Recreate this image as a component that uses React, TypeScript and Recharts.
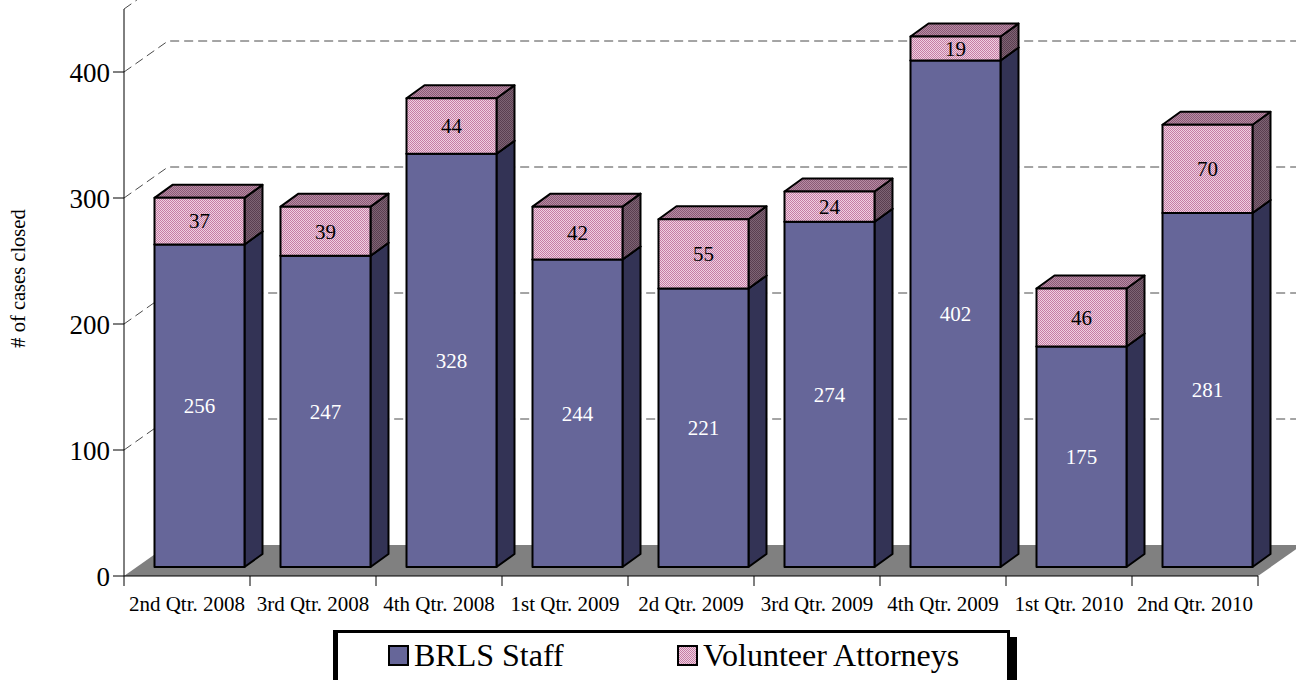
import React from 'react';
import { BarChart, Bar, XAxis, YAxis, CartesianGrid, LabelList } from 'recharts';

const quarters = [
  '2nd Qtr. 2008',
  '3rd Qtr. 2008',
  '4th Qtr. 2008',
  '1st Qtr. 2009',
  '2d Qtr. 2009',
  '3rd Qtr. 2009',
  '4th Qtr. 2009',
  '1st Qtr. 2010',
  '2nd Qtr. 2010',
];
const brlsStaff = [256, 247, 328, 244, 221, 274, 402, 175, 281];
const volunteerAttorneys = [37, 39, 44, 42, 55, 24, 19, 46, 70];
const yTicks = [0, 100, 200, 300, 400];
const yDomain = [0, 450];

const data = quarters.map((q, i) => ({
  quarter: q,
  staff: brlsStaff[i],
  volunteers: volunteerAttorneys[i],
}));

const W = 1296;
const H = 680;
const MARGIN = { top: 9, right: 38, bottom: 74, left: 0 };
const X_AXIS_H = 30;
const PLOT_BOTTOM = H - MARGIN.bottom - X_AXIS_H;
const FONT = '"Liberation Serif", "Times New Roman", serif';

// 3d look: wall depth, bar offset inside the floor, bar depth
const WALL_DX = 44;
const WALL_DY = -31;
const BAR_SHIFT_X = 12.5;
const BAR_SHIFT_Y = -9;
const BAR_DX = 18;
const BAR_DY = -13;

const faces = {
  staff: { front: '#666699', top: '#4d4d80', side: '#333355' },
  volunteers: { front: 'url(#pinkFront)', top: 'url(#pinkTop)', side: 'url(#pinkSide)' },
};

const Box3D = (props: any) => {
  const { x, y, width, height, kind } = props;
  if (width == null || height == null || height <= 0) return null;
  const f = faces[kind as 'staff' | 'volunteers'];
  const fx = x + BAR_SHIFT_X;
  const fy = y + BAR_SHIFT_Y;
  const r = fx + width;
  const b = fy + height;
  return (
    <g stroke="#000" strokeWidth={2} strokeLinejoin="round">
      <polygon
        points={`${r},${fy} ${r + BAR_DX},${fy + BAR_DY} ${r + BAR_DX},${b + BAR_DY} ${r},${b}`}
        fill={f.side}
      />
      <polygon
        points={`${fx},${fy} ${fx + BAR_DX},${fy + BAR_DY} ${r + BAR_DX},${fy + BAR_DY} ${r},${fy}`}
        fill={f.top}
      />
      <rect x={fx} y={fy} width={width} height={height} fill={f.front} />
    </g>
  );
};

const barLabel = (color: string) => (p: any) => {
  const { x, y, width, height, value } = p;
  return (
    <text
      x={x + BAR_SHIFT_X + width / 2}
      y={y + BAR_SHIFT_Y + height / 2}
      dy="0.35em"
      textAnchor="middle"
      fill={color}
      fontSize={21}
      fontFamily={FONT}
    >
      {value}
    </text>
  );
};

const backGrid = (p: any) => {
  const { x1, x2, y1 } = p;
  if (Math.abs(y1 - PLOT_BOTTOM) < 0.5) {
    return (
      <polygon
        key={`floor-${y1}`}
        points={`${x1},${y1} ${x2},${y1} ${x2 + WALL_DX},${y1 + WALL_DY} ${x1 + WALL_DX},${y1 + WALL_DY}`}
        fill="#808080"
      />
    );
  }
  return (
    <path
      key={`grid-${y1}`}
      d={`M${x1},${y1} L${x1 + WALL_DX},${y1 + WALL_DY} L${x2 + WALL_DX},${y1 + WALL_DY}`}
      fill="none"
      stroke="#4a4a4a"
      strokeDasharray="9 5"
    />
  );
};

const QuarterTick = (p: any) => {
  const { x, y, payload, index } = p;
  const half = payload && payload.offset ? payload.offset : 63;
  return (
    <g>
      {index === 0 && <line x1={x - half} y1={y} x2={x - half} y2={y + 10} stroke="#000" />}
      <line x1={x + half} y1={y} x2={x + half} y2={y + 10} stroke="#000" />
      <text x={x} y={y + 35} textAnchor="middle" fill="#000" fontSize={21} fontFamily={FONT}>
        {payload.value}
      </text>
    </g>
  );
};

const CountTick = (p: any) => {
  const { x, y, payload } = p;
  return (
    <text x={x} y={y} dy="0.36em" textAnchor="end" fill="#000" fontSize={27} fontFamily={FONT}>
      {payload.value}
    </text>
  );
};

const YLabel = (p: any) => {
  const vb = p.viewBox || { x: 0, y: MARGIN.top, width: 124, height: PLOT_BOTTOM - MARGIN.top };
  const cx = vb.x + 25;
  const cy = vb.y + vb.height / 2 - 14;
  return (
    <text
      x={cx}
      y={cy}
      transform={`rotate(-90, ${cx}, ${cy})`}
      textAnchor="middle"
      fill="#000"
      fontSize={20.5}
      fontFamily={FONT}
    >
      # of cases closed
    </text>
  );
};

const legendItems = [
  { name: 'BRLS Staff', swatch: '#666699', left: 50 },
  { name: 'Volunteer Attorneys', swatch: 'url(#pinkFront)', left: 339 },
];

export default function App() {
  return (
    <div style={{ position: 'absolute', left: 0, top: 0, width: W, height: H, background: '#fff', overflow: 'hidden', fontFamily: FONT }}>
      <svg width={0} height={0} style={{ position: 'absolute' }}>
        <defs>
          <pattern id="pinkFront" width="2" height="2" patternUnits="userSpaceOnUse">
            <rect width="2" height="2" fill="#eed0e0" />
            <rect width="1" height="1" fill="#c67ca4" />
            <rect x="1" y="1" width="1" height="1" fill="#c67ca4" />
          </pattern>
          <pattern id="pinkTop" width="2" height="2" patternUnits="userSpaceOnUse">
            <rect width="2" height="2" fill="#b88ca4" />
            <rect width="1" height="1" fill="#8a5a76" />
            <rect x="1" y="1" width="1" height="1" fill="#8a5a76" />
          </pattern>
          <pattern id="pinkSide" width="2" height="2" patternUnits="userSpaceOnUse">
            <rect width="2" height="2" fill="#7e6474" />
            <rect width="1" height="1" fill="#5a3e50" />
            <rect x="1" y="1" width="1" height="1" fill="#5a3e50" />
          </pattern>
        </defs>
      </svg>
      <BarChart width={W} height={H} data={data} margin={MARGIN} barCategoryGap={18}>
        <CartesianGrid vertical={false} horizontal={backGrid} />
        <XAxis
          dataKey="quarter"
          height={X_AXIS_H}
          interval={0}
          axisLine={{ stroke: '#000' }}
          tickLine={false}
          tickSize={0}
          tickMargin={0}
          tick={<QuarterTick />}
        />
        <YAxis
          width={124}
          domain={yDomain}
          ticks={yTicks}
          allowDataOverflow
          axisLine={{ stroke: '#000' }}
          tickLine={{ stroke: '#000' }}
          tickSize={11}
          tickMargin={3}
          tick={<CountTick />}
          label={<YLabel />}
        />
        <Bar
          dataKey="staff"
          name="BRLS Staff"
          stackId="a"
          isAnimationActive={false}
          shape={(p: any) => <Box3D {...p} kind="staff" />}
        >
          <LabelList dataKey="staff" content={barLabel('#fff')} />
        </Bar>
        <Bar
          dataKey="volunteers"
          name="Volunteer Attorneys"
          stackId="a"
          isAnimationActive={false}
          shape={(p: any) => <Box3D {...p} kind="volunteers" />}
        >
          <LabelList dataKey="volunteers" content={barLabel('#000')} />
        </Bar>
      </BarChart>
      <div
        style={{
          position: 'absolute',
          left: 333,
          top: 630,
          width: 677,
          height: 80,
          boxSizing: 'border-box',
          border: '3px solid #000',
          borderLeftWidth: 5,
          boxShadow: '7px 7px 0 #000',
          background: '#fff',
          fontFamily: FONT,
          fontSize: 32,
        }}
      >
        {legendItems.map((it) => (
          <div
            key={it.name}
            style={{ position: 'absolute', left: it.left, top: 6, display: 'flex', alignItems: 'center', lineHeight: '32px' }}
          >
            <svg width={21} height={21} style={{ marginRight: 5 }}>
              <rect x={1} y={1} width={19} height={19} fill={it.swatch} stroke="#000" strokeWidth={2} />
            </svg>
            <span>{it.name}</span>
          </div>
        ))}
      </div>
    </div>
  );
}
